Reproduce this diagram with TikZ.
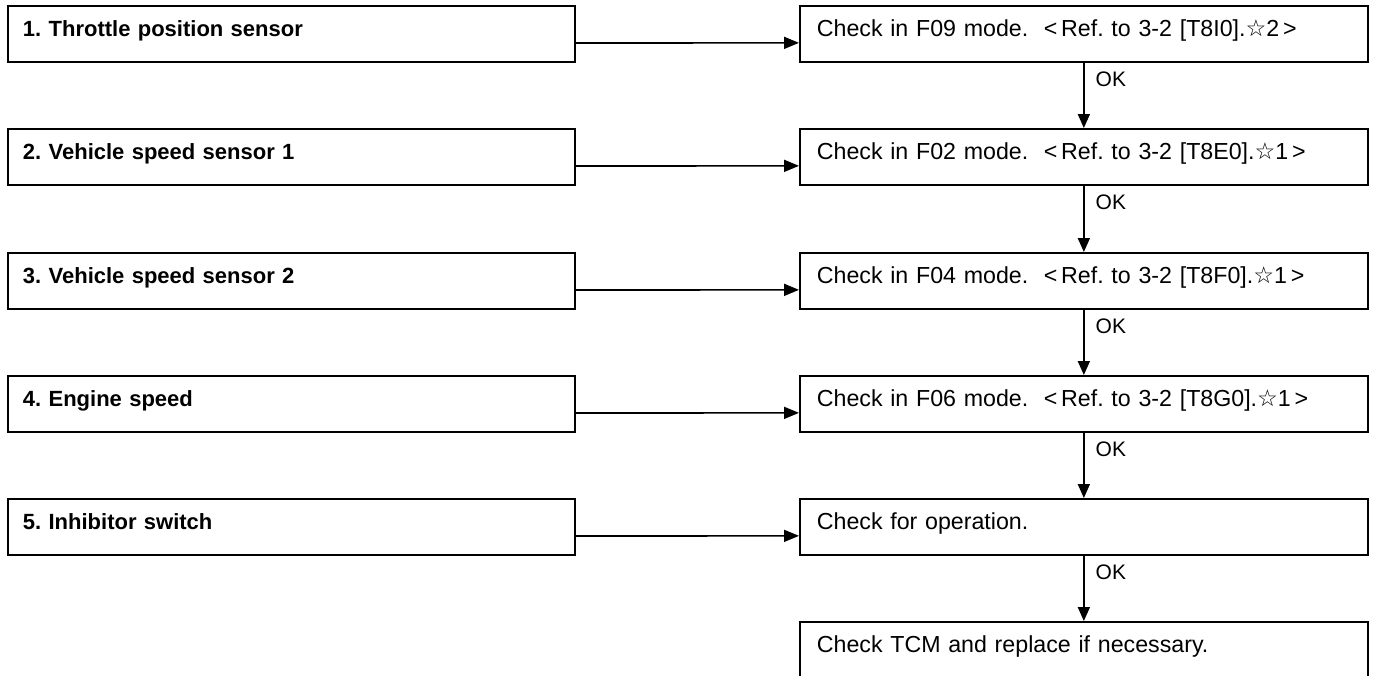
\documentclass[tikz,border=0pt]{standalone}
\usepackage{fontspec}
\setmainfont{Liberation Sans}
\newfontfamily\symfont{DejaVu Sans}
\usetikzlibrary{arrows.meta}
\newcommand{\wstar}{{\symfont\char"2606}}
\frenchspacing
\begin{document}
\begin{tikzpicture}[x=1pt,y=-1pt,
  leftbox/.style={draw,line width=1.9pt,minimum width=567pt,minimum height=56pt,
    inner ysep=0pt,inner xsep=15pt,anchor=north west,text width=537pt,align=left,
    text height=16pt,text depth=10pt,font=\fontsize{22}{24}\selectfont\bfseries},
  rightbox/.style={draw,line width=1.7pt,minimum width=568pt,minimum height=56pt,
    inner ysep=0pt,inner xsep=17pt,anchor=north west,text width=534pt,align=left,
    text height=16pt,text depth=10pt,font=\fontsize{23.2}{26}\selectfont},
  harrow/.style={line width=1.7pt,-{Triangle[length=15pt,width=12pt]}},
  varrow/.style={line width=1.7pt,-{Triangle[length=14pt,width=12pt]}},
  oklab/.style={anchor=west,inner sep=0pt,xshift=11pt,font=\fontsize{21}{24}\selectfont}
]
\useasboundingbox (0,0) rectangle (1373,675);
\fill[white] (0,0) rectangle (1373,675);
% left boxes
\node[leftbox] (L1) at (7,5)   {1. Throttle position sensor};
\node[leftbox] (L2) at (7,128) {2. Vehicle speed sensor 1};
\node[leftbox] (L3) at (7,252) {3. Vehicle speed sensor 2};
\node[leftbox] (L4) at (7,375) {4. Engine speed};
\node[leftbox] (L5) at (7,498) {5. Inhibitor switch};
% right boxes
\node[rightbox] (R1) at (799,5)   {Check in F09 mode. \ <\,Ref. to 3-2 [T8I0].\wstar2\,>};
\node[rightbox] (R2) at (799,128) {Check in F02 mode. \ <\,Ref. to 3-2 [T8E0].\wstar1\,>};
\node[rightbox] (R3) at (799,252) {Check in F04 mode. \ <\,Ref. to 3-2 [T8F0].\wstar1\,>};
\node[rightbox] (R4) at (799,375) {Check in F06 mode. \ <\,Ref. to 3-2 [T8G0].\wstar1\,>};
\node[rightbox] (R5) at (799,498) {Check for operation.};
\node[rightbox] (R6) at (799,621) {Check TCM and replace if necessary.};
% horizontal arrows
\foreach \i in {1,...,5}{
  \draw[harrow] ([yshift=-9pt]L\i.east) -- ([yshift=-9pt]R\i.west);
}
% vertical arrows with OK
\draw[varrow] (R1.south) -- node[oklab,pos=0.25] (ok1) {OK} (R2.north);
\draw[varrow] (R2.south) -- node[oklab,pos=0.25] (ok2) {OK} (R3.north);
\draw[varrow] (R3.south) -- node[oklab,pos=0.25] (ok3) {OK} (R4.north);
\draw[varrow] (R4.south) -- node[oklab,pos=0.25] (ok4) {OK} (R5.north);
\draw[varrow] (R5.south) -- node[oklab,pos=0.25] (ok5) {OK} (R6.north);
\end{tikzpicture}
\end{document}
